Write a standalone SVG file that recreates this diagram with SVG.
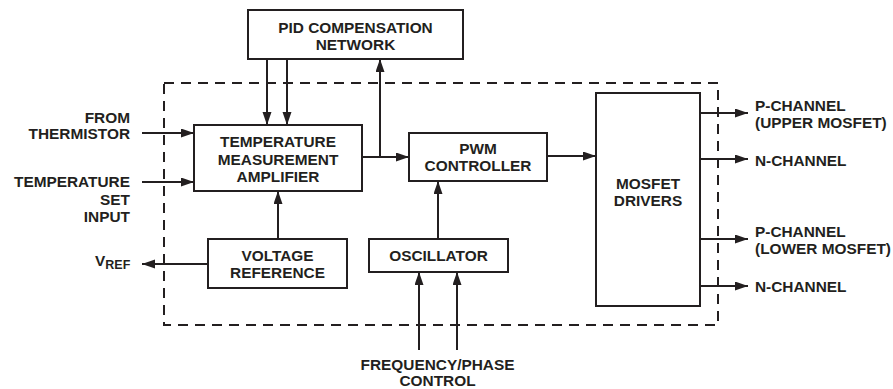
<svg xmlns="http://www.w3.org/2000/svg" width="893" height="389" viewBox="0 0 893 389">
<defs>
<marker id="ah" markerUnits="userSpaceOnUse" markerWidth="14" markerHeight="10" refX="13" refY="4.5" orient="auto">
<path d="M0,0 L13,4.5 L0,9 z" fill="#231f20"/>
</marker>
<style>
.box{fill:#fff;stroke:#231f20;stroke-width:2}
.ln{fill:none;stroke:#231f20;stroke-width:2;marker-end:url(#ah)}
text{font-family:"Liberation Sans",Arial,sans-serif;font-weight:bold;font-size:15.4px;fill:#231f20}
.c{text-anchor:middle}
.r{text-anchor:end}
</style>
</defs>
<rect width="893" height="389" fill="#fff"/>
<rect x="164" y="83" width="554" height="242" fill="none" stroke="#231f20" stroke-width="2" stroke-dasharray="10,7"/>
<g id="connectors">
<line class="ln" x1="267" y1="59" x2="267" y2="125"/>
<line class="ln" x1="287" y1="59" x2="287" y2="125"/>
<line class="ln" x1="362" y1="157" x2="409" y2="157"/>
<line class="ln" x1="380" y1="157" x2="380" y2="59"/>
<line class="ln" x1="142" y1="133" x2="194" y2="133"/>
<line class="ln" x1="142" y1="182" x2="194" y2="182"/>
<line class="ln" x1="547" y1="156" x2="596" y2="156"/>
<line class="ln" x1="278" y1="239" x2="278" y2="191"/>
<line class="ln" x1="438" y1="239" x2="438" y2="181"/>
<line class="ln" x1="208" y1="264" x2="142" y2="264"/>
<line class="ln" x1="419" y1="350" x2="419" y2="272"/>
<line class="ln" x1="457" y1="350" x2="457" y2="272"/>
<line class="ln" x1="700" y1="113" x2="748" y2="113"/>
<line class="ln" x1="700" y1="159" x2="748" y2="159"/>
<line class="ln" x1="700" y1="239" x2="748" y2="239"/>
<line class="ln" x1="700" y1="286" x2="748" y2="286"/>
</g>
<g id="pid">
<rect class="box" x="248" y="10" width="215" height="49"/>
<text class="c" x="355.5" y="33">PID COMPENSATION</text>
<text class="c" x="355.5" y="50">NETWORK</text>
</g>
<g id="amp">
<rect class="box" x="194" y="125" width="168" height="66"/>
<text class="c" x="278" y="147">TEMPERATURE</text>
<text class="c" x="278" y="164.5">MEASUREMENT</text>
<text class="c" x="278" y="182">AMPLIFIER</text>
</g>
<g id="pwm">
<rect class="box" x="409" y="133" width="138" height="48"/>
<text class="c" x="478" y="154">PWM</text>
<text class="c" x="478" y="171">CONTROLLER</text>
</g>
<g id="drivers">
<rect class="box" x="596" y="93" width="104" height="213"/>
<text class="c" x="648" y="189">MOSFET</text>
<text class="c" x="648" y="206">DRIVERS</text>
</g>
<g id="vref">
<rect class="box" x="208" y="239" width="139" height="49"/>
<text class="c" x="277.5" y="261">VOLTAGE</text>
<text class="c" x="277.5" y="278">REFERENCE</text>
</g>
<g id="osc">
<rect class="box" x="369" y="239" width="139" height="33"/>
<text class="c" x="438.5" y="261">OSCILLATOR</text>
</g>
<g id="labels">
<text class="r" x="130" y="122.5">FROM</text>
<text class="r" x="130" y="139">THERMISTOR</text>
<text class="r" x="130" y="187">TEMPERATURE</text>
<text class="r" x="130" y="205">SET</text>
<text class="r" x="130" y="222">INPUT</text>
<text x="95" y="266">V<tspan font-size="12.5" dy="3">REF</tspan></text>
<text class="c" x="437.5" y="370">FREQUENCY/PHASE</text>
<text class="c" x="437.5" y="386">CONTROL</text>
<text x="755" y="111">P-CHANNEL</text>
<text x="755" y="128">(UPPER MOSFET)</text>
<text x="755" y="165.5">N-CHANNEL</text>
<text x="755" y="237">P-CHANNEL</text>
<text x="755" y="254">(LOWER MOSFET)</text>
<text x="755" y="292">N-CHANNEL</text>
</g>
</svg>
